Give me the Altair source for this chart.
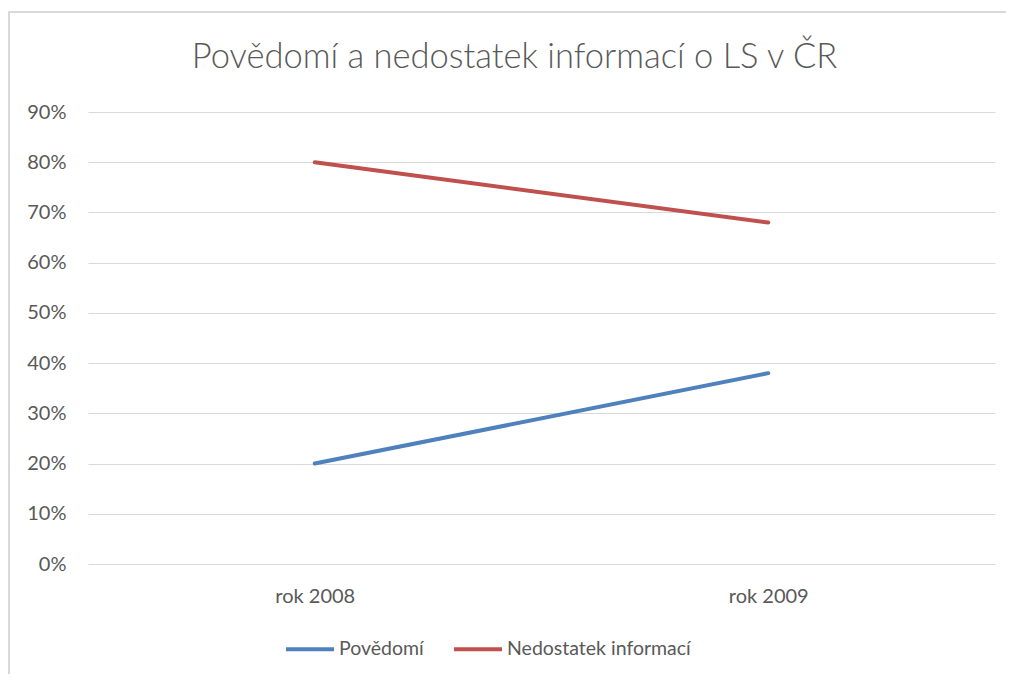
import altair as alt
import pandas as pd

years = ["rok 2008", "rok 2009"]
povedomi = [0.20, 0.38]
nedostatek = [0.80, 0.68]
series = ["Povědomí", "Nedostatek informací"]
colors = ["#4F81BD", "#C0504D"]
y_ticks = [0.0, 0.1, 0.2, 0.3, 0.4, 0.5, 0.6, 0.7, 0.8, 0.9]
title_text = "Povědomí a nedostatek informací o LS v ČR"

rows = []
for s, vals in zip(series, [povedomi, nedostatek]):
    for yr, v in zip(years, vals):
        rows.append({"rok": yr, "podil": v, "serie": s})
df = pd.DataFrame(rows)

W, H = 907, 452
FONT = "Lato"
TXT = "#595959"

lines = alt.Chart(df).mark_line(strokeWidth=4, strokeCap="round").encode(
    x=alt.X("rok:N", sort=years, scale=alt.Scale(padding=0.5),
            axis=alt.Axis(title=None, labelAngle=0, domain=False, ticks=False,
                          labelPadding=22, labelFontSize=20, labelFont=FONT,
                          labelColor=TXT, grid=False)),
    y=alt.Y("podil:Q", scale=alt.Scale(domain=[0, 0.9], nice=False),
            axis=alt.Axis(title=None, values=y_ticks, format=".0%", domain=False,
                          ticks=False, grid=True, gridColor="#D9D9D9", gridWidth=1,
                          labelPadding=22, labelFontSize=20, labelFont=FONT,
                          labelColor=TXT)),
    color=alt.Color("serie:N", sort=series,
                    scale=alt.Scale(domain=series, range=colors),
                    legend=alt.Legend(title=None, orient="none", direction="horizontal",
                                      legendX=196, legendY=511,
                                      symbolType="stroke", symbolStrokeWidth=4,
                                      symbolSize=2304, labelFontSize=19.5,
                                      labelFont=FONT, labelColor=TXT, labelLimit=0,
                                      columnPadding=22, labelOffset=3)),
    detail="serie:N",
)

frame_df = pd.DataFrame({"a": [0]})
top_rule = alt.Chart(frame_df).mark_rule(color="#D9D9D9", strokeWidth=2).encode(
    x=alt.value(-81), x2=alt.value(W + 11), y=alt.value(-100))
left_rule = alt.Chart(frame_df).mark_rule(color="#D9D9D9", strokeWidth=2).encode(
    x=alt.value(-79), y=alt.value(-100), y2=alt.value(H + 110))

chart = alt.layer(lines, top_rule, left_rule).properties(
    width=W, height=H,
    padding={"left": 80, "top": 104, "right": 11, "bottom": 110},
    autosize=alt.AutoSizeParams(type="none"),
    title=alt.TitleParams(title_text, font=FONT, fontSize=34.5, fontWeight=300,
                          color=TXT, anchor="middle", dx=-27, offset=-64),
).configure_view(stroke=None)

chart.save("out.html", embed_options={"renderer": "svg", "actions": False})
